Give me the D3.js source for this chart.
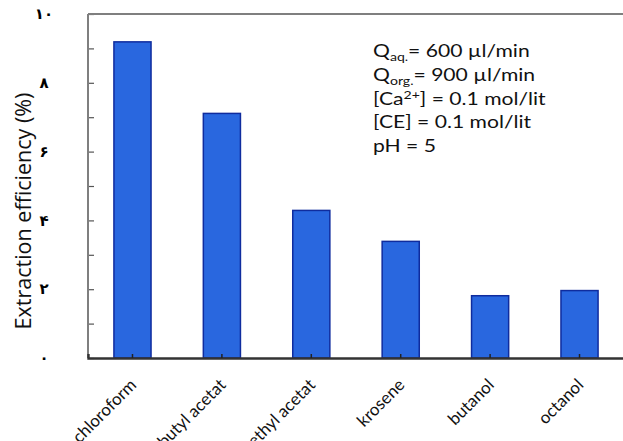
<!DOCTYPE html>
<html>
<head>
<meta charset="utf-8">
<script src="https://cdn.jsdelivr.net/npm/d3@7"></script>
<style>
  body { margin: 0; background: #fff; }
  svg { display: block; }
</style>
</head>
<body>
<svg id="chart" width="623" height="441"></svg>
<script>
const categories = ["chloroform", "butyl acetat", "ethyl acetat", "krosene", "butanol", "octanol"];
const efficiency = [9.19, 7.11, 4.29, 3.39, 1.81, 1.96];
const yTickValues = [0, 2, 4, 6, 8, 10];
const yTickLabels = ["۰", "۲", "۴", "۶", "۸", "۱۰"];
const notes = [
  {main: "Q", sub: "aq.", rest: "= 600 µl/min"},
  {main: "Q", sub: "org.", rest: "= 900 µl/min"},
  {main: "[Ca", sup: "2+", rest: "] = 0.1 mol/lit"},
  {main: "[CE] = 0.1 mol/lit"},
  {main: "pH = 5"}
];

const svg = d3.select("#chart"),
  margin = {top: 14, right: -1, bottom: 83, left: 88},
  width = +svg.attr("width") - margin.left - margin.right,
  height = +svg.attr("height") - margin.top - margin.bottom,
  g = svg.append("g").attr("transform", `translate(${margin.left},${margin.top})`);

const font = "Lato, sans-serif";

const x = d3.scaleBand().domain(categories).range([0, width]).paddingInner(0.585).paddingOuter(0.29);
const y = d3.scaleLinear().domain([0, 10]).range([height, 0]);

// bars
g.selectAll("rect.bar")
  .data(categories)
  .join("rect")
  .attr("class", "bar")
  .attr("x", d => x(d))
  .attr("y", (d, i) => y(efficiency[i]))
  .attr("width", x.bandwidth())
  .attr("height", (d, i) => height - y(efficiency[i]))
  .attr("fill", "#2967df")
  .attr("stroke", "#0f2c9e")
  .attr("stroke-width", 1.5);

// y axis: inward ticks every 1, labels every 2
const yAxis = g.append("g")
  .call(d3.axisRight(y).tickValues(d3.range(0, 11)).tickSize(6).tickFormat(""));
yAxis.select(".domain").remove();
yAxis.selectAll(".tick line").attr("stroke", "#555").attr("stroke-width", 1.2);

g.selectAll("text.ylab")
  .data(yTickValues)
  .join("text")
  .attr("class", "ylab")
  .attr("x", -44)
  .attr("y", d => y(d))
  .attr("dy", "0.35em")
  .attr("text-anchor", "middle")
  .style("font-family", "'DejaVu Sans', sans-serif")
  .style("font-size", "15px")
  .style("font-weight", "bold")
  .text((d, i) => yTickLabels[i]);

// frame lines
g.append("line").attr("x1", 0).attr("x2", 0).attr("y1", 0).attr("y2", height)
  .attr("stroke", "#7f7f7f").attr("stroke-width", 2);
g.append("line").attr("x1", 0).attr("x2", width).attr("y1", 0).attr("y2", 0)
  .attr("stroke", "#7f7f7f").attr("stroke-width", 2);

// x axis
const xAxis = g.append("g")
  .attr("transform", `translate(0,${height})`)
  .call(d3.axisTop(x).tickSize(4).tickFormat(""));
xAxis.select(".domain").attr("stroke", "#333").attr("stroke-width", 2.4);
xAxis.selectAll(".tick line").attr("stroke", "#222").attr("stroke-width", 1.5);

g.selectAll("text.xlab")
  .data(categories)
  .join("text")
  .attr("class", "xlab")
  .attr("transform", d => `translate(${x(d) + x.bandwidth() / 2 + 5},${height + 28}) rotate(-45)`)
  .attr("text-anchor", "end")
  .style("font-family", font)
  .style("font-size", "17px")
  .style("fill", "#111")
  .text(d => d);

// y title
g.append("text")
  .attr("transform", `translate(${-57},${211 - margin.top}) rotate(-90)`)
  .attr("text-anchor", "middle")
  .style("font-family", "'Open Sans', sans-serif")
  .style("font-size", "21.5px")
  .style("fill", "#111")
  .text("Extraction efficiency (%)");

// condition notes
const note = svg.append("text")
  .attr("transform", "translate(373,0) scale(1.28,1)")
  .style("font-family", font)
  .style("font-size", "16.5px")
  .style("fill", "#111");

notes.forEach((n, i) => {
  note.append("tspan").attr("x", 0).attr("y", 57.5 + i * 23.6).text(n.main);
  if (n.sub) note.append("tspan").attr("dy", 4).style("font-size", "11px").text(n.sub);
  if (n.sup) note.append("tspan").attr("dy", -6).style("font-size", "11px").text(n.sup);
  if (n.rest) note.append("tspan").attr("dy", n.sub ? -4 : (n.sup ? 6 : 0)).text(n.rest);
});
</script>
</body>
</html>
